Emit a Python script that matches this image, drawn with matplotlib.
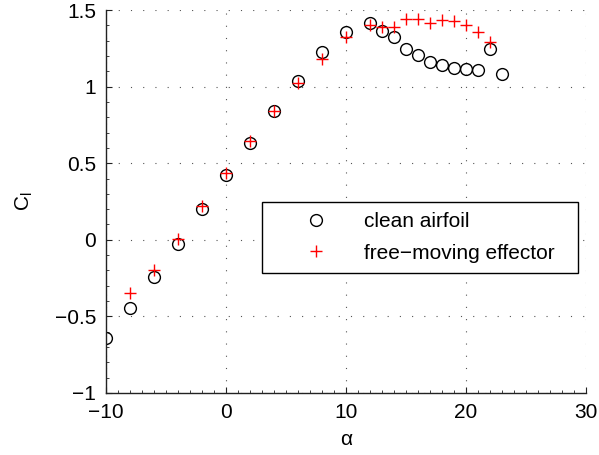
import numpy as np
import matplotlib
matplotlib.use("Agg")
import matplotlib.pyplot as plt
from matplotlib.ticker import MultipleLocator

plt.rcParams['font.family'] = ['Liberation Sans', 'DejaVu Sans']
plt.rcParams['font.size'] = 15
plt.rcParams['axes.unicode_minus'] = True

# lift coefficient vs angle of attack
alpha_clean = [-10, -8, -6, -4, -2, 0, 2, 4, 6, 8, 10,
               12, 13, 14, 15, 16, 17, 18, 19, 20, 21, 22, 23]
cl_clean = [-0.641, -0.443, -0.241, -0.028, 0.198, 0.424, 0.635, 0.841,
            1.039, 1.224, 1.359, 1.413, 1.366, 1.322, 1.248, 1.205,
            1.163, 1.144, 1.124, 1.115, 1.109, 1.244, 1.085]

alpha_eff = [-8, -6, -4, -2, 0, 2, 4, 6, 8, 10,
             12, 13, 14, 15, 16, 17, 18, 19, 20, 21, 22]
cl_eff = [-0.348, -0.200, 0.004, 0.222, 0.439, 0.643, 0.841, 1.026,
          1.183, 1.322, 1.402, 1.387, 1.391, 1.439, 1.444, 1.418,
          1.435, 1.426, 1.400, 1.357, 1.289]

fig = plt.figure(figsize=(5.99, 4.55), dpi=100)
ax = fig.add_axes([106/599., 1 - 393/455., 480/599., 383/455.])

ax.plot(alpha_clean, cl_clean, 'o', mfc='none', mec='k', ms=8.5, mew=1.0,
        label='clean airfoil')
ax.plot(alpha_eff, cl_eff, '+', color='r', ms=9, mew=1.0,
        label=u'free\u2212moving effector')

ax.set_xlim(-10, 30)
ax.set_ylim(-1, 1.5)
ax.set_xticks([-10, 0, 10, 20, 30])
ax.set_yticks([-1, -0.5, 0, 0.5, 1, 1.5])
ax.set_yticklabels([u'\u22121', u'\u22120.5', '0', '0.5', '1', '1.5'])
ax.xaxis.set_minor_locator(MultipleLocator(1))
ax.yaxis.set_minor_locator(MultipleLocator(0.1))
ax.tick_params(which='both', direction='in', top=False, right=False,
               colors='#222222', labelcolor='k')
ax.tick_params(which='major', length=4, width=0.8, pad=7)
ax.tick_params(which='minor', length=2, width=0.6)

for s in ['top', 'right']:
    ax.spines[s].set_visible(False)
for s in ['left', 'bottom']:
    ax.spines[s].set_linewidth(1.0)
    ax.spines[s].set_color('#222222')

ax.grid(True, which='major', color='#555555', linewidth=0.8,
        linestyle=(0, (1, 10)))
ax.set_axisbelow(True)

ax.set_xlabel(u'\u03b1', labelpad=6)
ax.set_ylabel(r'C$_\mathregular{l}$', labelpad=14)

leg = ax.legend(loc='lower left', bbox_to_anchor=(0.325, 0.313, 0.658, 0.2),
                mode='expand', borderaxespad=0, fancybox=False,
                edgecolor='k', framealpha=1, handlelength=4.2,
                handletextpad=0.2, borderpad=0.5, labelspacing=0.6,
                fontsize=15)
leg.get_frame().set_linewidth(1.0)

fig.savefig('out.png', dpi=100)
